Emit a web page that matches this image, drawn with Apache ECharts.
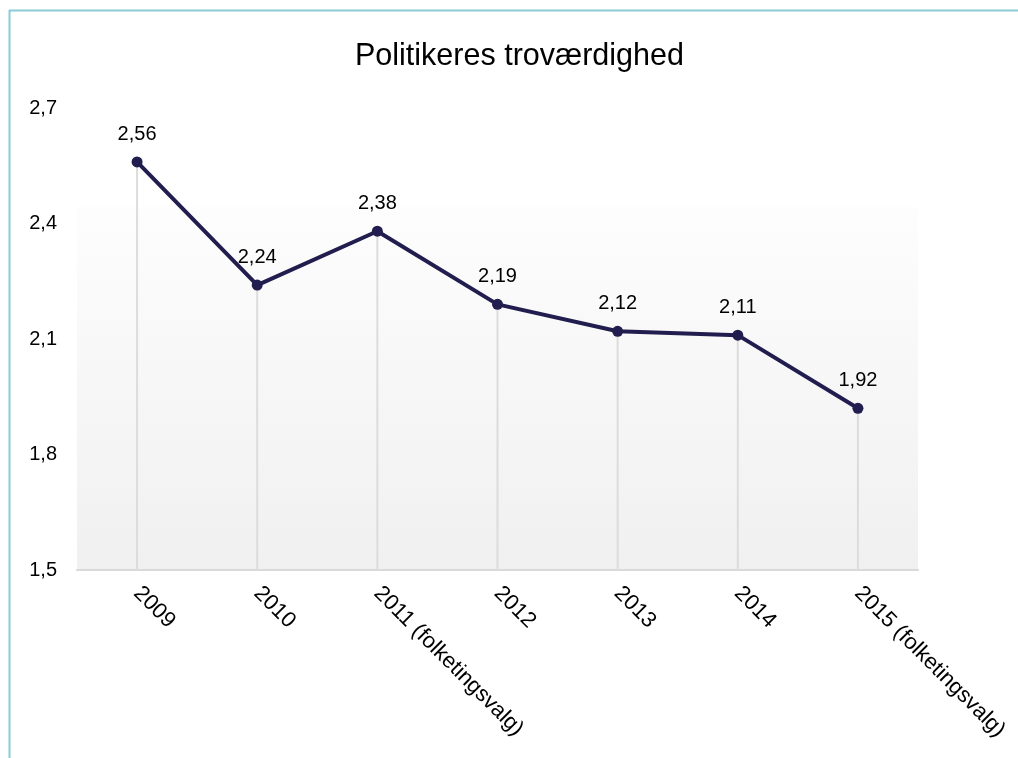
<!DOCTYPE html>
<html>
<head>
<meta charset="utf-8">
<script src="https://cdn.jsdelivr.net/npm/echarts@6/dist/echarts.min.js"></script>
<style>
html,body{margin:0;padding:0;background:#fff;}
#chart{width:1018px;height:758px;}
</style>
</head>
<body>
<div id="chart"></div>
<script>
const categories = ['2009','2010','2011 (folketingsvalg)','2012','2013','2014','2015 (folketingsvalg)'];
const values = [2.56, 2.24, 2.38, 2.19, 2.12, 2.11, 1.92];
const yMin = 1.5, yMax = 2.7, yStep = 0.3;

const fmt = (v, d) => Number(v).toFixed(d).replace('.', ',');
const font = 'Liberation Sans, Arial, sans-serif';

const chart = echarts.init(document.getElementById('chart'));
chart.setOption({
  animation: false,
  backgroundColor: '#fff',
  title: {
    text: 'Politikeres troværdighed',
    left: 350, top: 36,
    textStyle: {fontFamily: font, fontSize: 30.5, fontWeight: 'normal', color: '#000'}
  },
  graphic: [
    {type: 'line', shape: {x1: 9.5, y1: 10, x2: 9.5, y2: 758}, style: {stroke: '#8acbd6', lineWidth: 2}},
    {type: 'line', shape: {x1: 9, y1: 10.5, x2: 1018, y2: 10.5}, style: {stroke: '#8acbd6', lineWidth: 2}}
  ],
  grid: {
    left: 77, right: 100, top: 108, bottom: 188,
    show: true, borderWidth: 0,
    backgroundColor: {
      type: 'linear', x: 0, y: 0, x2: 0, y2: 1,
      colorStops: [
        {offset: 0, color: '#ffffff'},
        {offset: 0.21, color: '#ffffff'},
        {offset: 0.22, color: '#fdfdfd'},
        {offset: 1, color: '#f0f0f0'}
      ]
    }
  },
  xAxis: {
    type: 'category',
    data: categories,
    boundaryGap: true,
    axisLine: {lineStyle: {color: '#d9d9d9', width: 2}},
    axisTick: {show: false},
    axisLabel: {rotate: -45, margin: 20, fontFamily: font, fontSize: 22, color: '#000', interval: 0}
  },
  yAxis: {
    type: 'value',
    min: yMin, max: yMax, interval: yStep,
    axisLine: {show: false},
    axisTick: {show: false},
    splitLine: {show: false},
    axisLabel: {margin: 20, fontFamily: font, fontSize: 20, color: '#000', formatter: v => fmt(v, 1)}
  },
  series: [
    {
      type: 'bar',
      data: values,
      barWidth: 2,
      silent: true,
      itemStyle: {color: '#dcdcdc'},
      z: 1
    },
    {
      type: 'line',
      data: values,
      symbol: 'circle',
      symbolSize: 11,
      lineStyle: {color: '#211d4e', width: 4},
      itemStyle: {color: '#211d4e'},
      label: {
        show: true, position: 'top', distance: 12,
        fontFamily: font, fontSize: 20, color: '#000',
        formatter: p => fmt(p.value, 2)
      },
      z: 3
    }
  ]
});
</script>
</body>
</html>
